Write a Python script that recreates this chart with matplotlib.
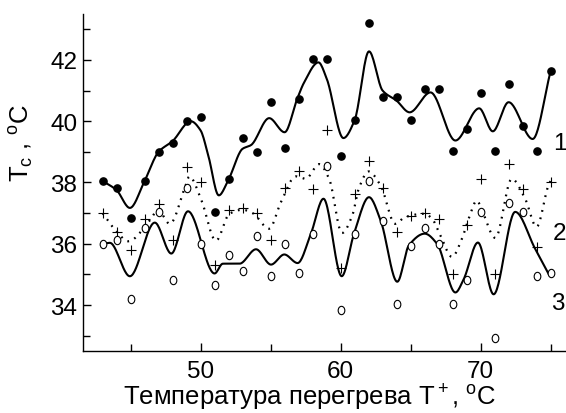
import numpy as np
import matplotlib
matplotlib.use("Agg")
import matplotlib.pyplot as plt
from matplotlib.path import Path
from matplotlib.transforms import Affine2D

plt.rcParams['font.family'] = ['Liberation Sans', 'DejaVu Sans']
plt.rcParams['mathtext.fontset'] = 'custom'
plt.rcParams['mathtext.rm'] = 'Liberation Sans'
plt.rcParams['mathtext.it'] = 'Liberation Sans'

# superheat temperature, degC
t_plus = [43, 44, 45, 46, 47, 48, 49, 50, 51, 52, 53, 54, 55, 56, 57, 58, 59,
          60, 61, 62, 63, 64, 65, 66, 67, 68, 69, 70, 71, 72, 73, 74, 75]

# measured Tc, series 1 (filled), 2 (plus), 3 (open)
tc_1 = [38.05, 37.83, 36.84, 38.05, 39.0, 39.3, 40.02, 40.13, 37.04, 38.12, 39.45,
        39.0, 40.64, 39.13, 40.73, 42.04, 42.04, 38.86, 40.03, 43.22, 40.8, 40.8,
        40.03, 41.04, 41.04, 39.02, 39.75, 40.92, 39.02, 41.22, 39.84, 39.02, 41.63]
tc_2 = [37.0, 36.4, 35.8, 36.82, 37.31, 36.11, 38.5, 38.0, 35.3, 37.11, 37.18,
        37.01, 36.11, 37.83, 38.39, 37.8, 39.7, 35.22, 37.61, 38.7, 37.83, 36.4,
        36.89, 37.01, 36.82, 35.0, 36.6, 38.1, 35.0, 38.61, 37.8, 35.9, 38.01]
tc_3 = [36.0, 36.13, 34.21, 36.51, 37.04, 34.83, 37.83, 36.0, 34.65, 35.62, 35.11,
        36.24, 34.95, 36.0, 35.03, 36.33, 38.53, 33.83, 36.33, 38.05, 36.74, 34.03,
        35.92, 36.52, 36.0, 34.03, 34.83, 37.04, 32.94, 37.34, 37.04, 34.95, 35.03]

# knots of the drawn smooth curves
c1_x = [43, 44, 44.95, 46, 47, 48, 49.3, 50, 50.55, 51.3, 52, 53, 53.6, 54.9, 56.0,
        56.9, 57.4, 58.42, 59.0, 60.2, 61, 62.03, 63, 64, 64.93, 66.42, 68.2, 69.9,
        70.87, 72.0, 73.72, 75]
c1_y = [38.05, 37.75, 37.17, 38.05, 39.0, 39.35, 40.0, 39.7, 38.88, 37.58, 38.1, 39.1,
        39.22, 40.1, 39.64, 40.73, 41.27, 41.92, 41.4, 39.45, 40.03, 42.28, 41.0, 40.67,
        40.29, 40.94, 39.37, 40.42, 39.67, 40.62, 39.42, 41.63]

c2_x = [43, 44, 44.83, 46.37, 46.96, 47.8, 48.93, 49.2, 50, 51.1, 52.06, 53.0, 53.72,
        54.9, 55.74, 56.8, 57.5, 58.47, 59.18, 60.1, 60.84, 61.3, 62.0, 62.86, 63.9,
        64.6, 66.0, 66.53, 67.13, 67.96, 68.67, 69.15, 69.74, 70.1, 71.05, 72.23,
        73.18, 74.0, 74.84, 75]
c2_y = [37.0, 36.4, 36.08, 36.76, 37.1, 36.65, 37.9, 38.2, 37.5, 36.1, 36.98, 37.11,
        37.0, 36.49, 37.36, 38.2, 38.12, 38.6, 38.12, 36.35, 36.93, 37.8, 38.36, 37.9,
        36.65, 36.87, 36.98, 36.82, 36.27, 35.57, 36.17, 36.82, 37.41, 37.09, 36.19,
        38.12, 37.47, 36.55, 37.9, 38.05]

c3_x = [43, 43.52, 44.95, 46.73, 47.91, 49.1, 51.0, 51.59, 52.78, 53.96, 55.03, 55.98,
        56.93, 57.88, 58.78, 60.08, 60.96, 62.03, 62.86, 64.05, 64.88, 66.01, 66.89,
        68.2, 68.79, 69.81, 70.93, 72.47, 73.89, 74.84]
c3_y = [36.0, 36.03, 34.94, 36.69, 35.68, 37.06, 35.03, 35.35, 35.35, 35.82, 35.32,
        35.65, 35.37, 36.33, 37.47, 34.94, 36.33, 37.52, 36.76, 34.76, 35.95, 36.33,
        36.0, 34.41, 34.84, 36.04, 34.35, 37.04, 35.84, 35.03]


def pchip(xk, yk, n=600):
    x = np.asarray(xk, float)
    y = np.asarray(yk, float)
    h = np.diff(x)
    delta = np.diff(y) / h
    d = np.zeros_like(y)
    for k in range(1, len(x) - 1):
        if delta[k - 1] * delta[k] > 0:
            w1 = 2 * h[k] + h[k - 1]
            w2 = h[k] + 2 * h[k - 1]
            d[k] = (w1 + w2) / (w1 / delta[k - 1] + w2 / delta[k])
    d[0] = delta[0]
    d[-1] = delta[-1]
    xs = np.linspace(x[0], x[-1], n)
    idx = np.clip(np.searchsorted(x, xs) - 1, 0, len(x) - 2)
    t = (xs - x[idx]) / h[idx]
    h00 = 2 * t**3 - 3 * t**2 + 1
    h10 = t**3 - 2 * t**2 + t
    h01 = -2 * t**3 + 3 * t**2
    h11 = t**3 - t**2
    ys = h00 * y[idx] + h10 * h[idx] * d[idx] + h01 * y[idx + 1] + h11 * h[idx] * d[idx + 1]
    return xs, ys


ellipse = Path.unit_circle().transformed(Affine2D().scale(0.8, 1.0))

fig = plt.figure(figsize=(5.66, 4.14), dpi=100)
ax = fig.add_axes([0.1466, 0.1498, 0.8534, 0.814])

ax.plot(*pchip(c1_x, c1_y), color='black', lw=1.5)
ax.plot(*pchip(c2_x, c2_y), color='black', lw=1.6, linestyle=(0, (0.8, 2.6)))
ax.plot(*pchip(c3_x, c3_y), color='black', lw=1.5)

ax.plot(t_plus, tc_1, 'o', color='black', markersize=5.2, linestyle='none')
ax.plot(t_plus, tc_2, '+', color='black', markersize=7, markeredgewidth=0.8, linestyle='none')
ax.plot(t_plus, tc_3, marker=ellipse, color='black', markerfacecolor='white',
        markersize=6, markeredgewidth=0.8, linestyle='none')

ax.text(75.15, 39.3, '1', fontsize=17.5, va='center')
ax.text(75.15, 36.35, '2', fontsize=17.5, va='center')
ax.text(75.0, 34.05, '3', fontsize=17.5, va='center')

ax.set_xlim(41.6, 76.1)
ax.set_ylim(32.5, 43.5)
ax.set_xticks([50, 60, 70])
ax.set_xticks([45, 55, 65, 75], minor=True)
ax.set_yticks([34, 36, 38, 40, 42])
ax.set_yticks([33, 35, 37, 39, 41, 43], minor=True)
ax.tick_params(which='both', direction='in', width=1, labelsize=17.5)
ax.tick_params(axis='x', pad=6.5)
ax.tick_params(axis='y', pad=4)
ax.tick_params(which='major', length=6)
ax.tick_params(which='minor', length=5)
ax.spines['top'].set_visible(False)
ax.spines['right'].set_visible(False)
ax.spines['left'].set_linewidth(1)
ax.spines['bottom'].set_linewidth(1)

fig.text(310 / 566, 8 / 414, 'Температура перегрева T$^+$, $^{\\rm o}$C',
         fontsize=18.5, ha='center', va='baseline')
fig.text(22 / 566, 1 - 143 / 414, 'T$_{\\rm c}$ , $^{\\rm o}$C', fontsize=18.5,
         rotation=90, ha='center', va='center')

fig.savefig('out.png', dpi=100)
